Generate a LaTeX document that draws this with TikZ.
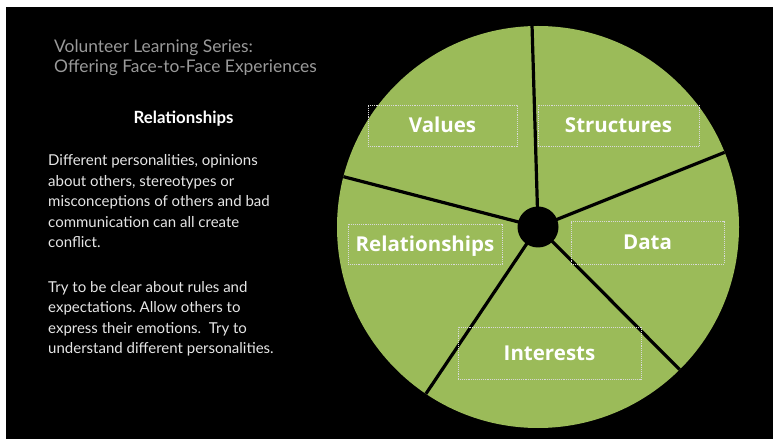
\documentclass[tikz,border=0pt]{standalone}
\usepackage{fontspec}
\setmainfont{Lato}
\newfontfamily\labelfont{Open Sans}
\usepackage{tikz}
\usetikzlibrary{calc}
\definecolor{wheelgreen}{HTML}{9BBB59}
\definecolor{titlegray}{HTML}{9A9A9A}
\definecolor{bodygray}{HTML}{E6E6E6}
\frenchspacing

\begin{document}
\begin{tikzpicture}[x=1pt,y=1pt,
  spoke/.style={line width=3.2pt,black},
  lbl/.style={draw=white!85!black,densely dotted,line width=0.9pt,text=white,
    font=\labelfont\bfseries\fontsize{20.5}{24}\selectfont,
    text height=15pt,text depth=0pt,inner sep=0pt}]
\useasboundingbox (0,0) rectangle (773,439);
\fill[white] (0,0) rectangle (773,439);
\fill[black] (6,0) rectangle (773,432);
% wheel
\coordinate (c) at (538,212);
\fill[wheelgreen] (c) circle[radius=201];
\foreach \a/\n in {91.7/top,21.8/ne,-45.2/se,-123.9/sw,165.5/nw}
  \draw[spoke] (c) -- ($(c)+(\a:201)$) coordinate (\n);
\fill[black] (c) circle[radius=20.5];
\node[lbl,minimum width=149pt,minimum height=41pt] (values) at (442.5,313.5) {Values};
\node[lbl,minimum width=161pt,minimum height=41pt] (structures) at (618.5,313.5) {Structures};
\node[lbl,minimum width=154pt,minimum height=40pt] (relationships) at (425,195) {Relationships};
\node[lbl,minimum width=153pt,minimum height=43pt] (data) at (647.5,196.5) {Data};
\node[lbl,minimum width=183pt,minimum height=52pt] (interests) at (549.5,86) {Interests};
% text (base anchor sits on the last line)
\node[anchor=base west,inner sep=0pt,align=left,text=titlegray,
  font=\fontsize{17.4}{20.5}\selectfont] (series) at (54,366)
  {Volunteer Learning Series:\\Offering Face-to-Face Experiences};
\node[anchor=base,inner sep=0pt,text=white,font=\bfseries\fontsize{16.8}{18}\selectfont] (heading) at (183.5,315) {Relationships};
\node[anchor=base west,inner sep=0pt,align=left,text=bodygray,
  font=\fontsize{15}{20.6}\selectfont] (conflict) at (48,191)
  {Different personalities, opinions\\about others, stereotypes or\\misconceptions of others and bad\\communication can all create\\conflict.};
\node[anchor=base west,inner sep=0pt,align=left,text=bodygray,
  font=\fontsize{15}{20.6}\selectfont] (advice) at (48,85)
  {Try to be clear about rules and\\expectations. Allow others to\\express their emotions.\ \ Try to\\understand different personalities.};
\end{tikzpicture}
\end{document}
